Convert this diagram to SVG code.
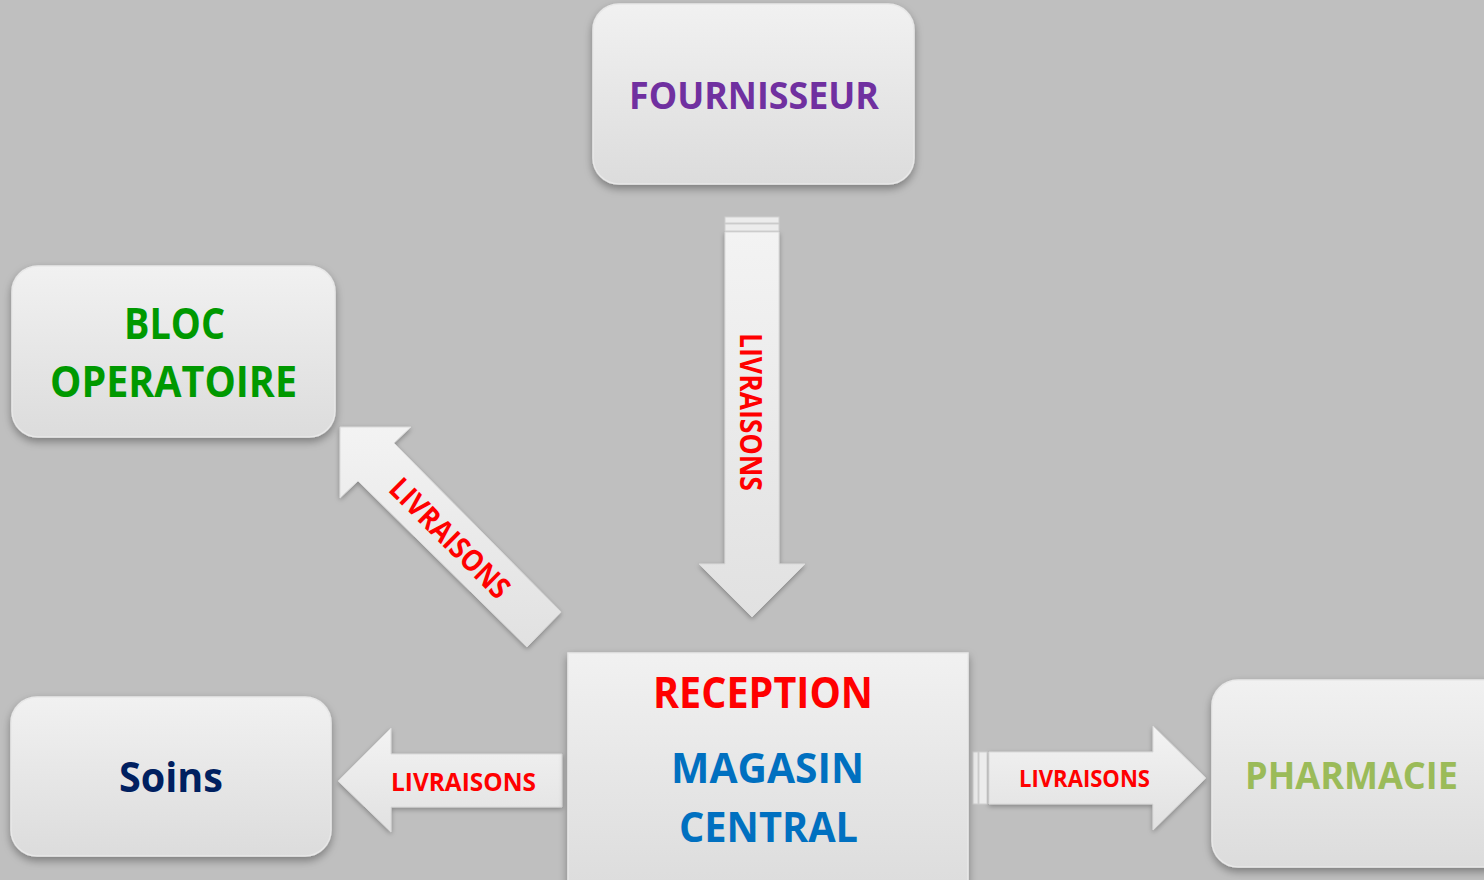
<svg xmlns="http://www.w3.org/2000/svg" width="1484" height="880" viewBox="0 0 1484 880">
<defs>
<linearGradient id="boxGrad" x1="0" y1="0" x2="0" y2="1">
<stop offset="0" stop-color="#f1f1f1"/>
<stop offset="1" stop-color="#dcdcdc"/>
</linearGradient>
<linearGradient id="arrGrad" x1="0" y1="0" x2="0" y2="1">
<stop offset="0" stop-color="#f3f3f3"/>
<stop offset="1" stop-color="#e1e1e1"/>
</linearGradient>
<linearGradient id="arrGradH" x1="0" y1="0" x2="1" y2="0">
<stop offset="0" stop-color="#e4e4e4"/>
<stop offset="0.5" stop-color="#efefef"/>
<stop offset="1" stop-color="#e4e4e4"/>
</linearGradient>
<filter id="shadow" x="-10%" y="-10%" width="120%" height="130%">
<feDropShadow dx="0" dy="4" stdDeviation="4" flood-color="#000" flood-opacity="0.35"/>
</filter>
<filter id="ashadow" x="-10%" y="-10%" width="120%" height="130%">
<feDropShadow dx="0" dy="2" stdDeviation="2.5" flood-color="#000" flood-opacity="0.3"/>
</filter>
</defs>
<style>
.box{fill:url(#boxGrad);stroke:#e8e8e8;stroke-width:1.5;filter:url(#shadow)}
.arrow{fill:url(#arrGrad);stroke:#d9d9d9;stroke-width:1;filter:url(#ashadow)}
.stripe{fill:#ececec;stroke:#cfcfcf;stroke-width:1}
.t{font-family:"Open Sans","Liberation Sans",sans-serif;font-weight:bold;text-anchor:middle}
.lab{font-family:"Open Sans","Liberation Sans",sans-serif;font-weight:bold;text-anchor:middle;fill:#ff0000}
</style>
<rect x="0" y="0" width="1484" height="880" fill="#bfbfbf"/>

<g id="connectors">
<g id="arrow-fournisseur-reception">
<polygon class="arrow" points="725,232 779,232 779,564 805,564 752,617 699,564 725,564"/>
<rect class="stripe" x="725" y="217" width="54" height="6"/>
<rect class="stripe" x="725" y="224" width="54" height="7"/>
<text class="lab" font-size="30" textLength="158" lengthAdjust="spacingAndGlyphs" transform="translate(740,412) rotate(90)">LIVRAISONS</text>
</g>
<g id="arrow-reception-bloc">
<polygon class="arrow" points="340,427 411,427 394,443 561,612 527,647 358,481 340,498"/>
<text class="lab" font-size="30" textLength="156" lengthAdjust="spacingAndGlyphs" transform="translate(450,538) rotate(45)" x="0" y="10.7">LIVRAISONS</text>
</g>
<g id="arrow-reception-soins">
<polygon class="arrow" points="562,754 562,807 391,807 391,832 338,781 391,728 391,754"/>
<text class="lab" font-size="25.6" textLength="145" lengthAdjust="spacingAndGlyphs" x="463.5" y="791">LIVRAISONS</text>
</g>
<g id="arrow-reception-pharmacie">
<polygon class="arrow" points="989,752 1153,752 1153,726 1206,778 1153,830 1153,804 989,804"/>
<rect class="stripe" x="973" y="752" width="5" height="52"/>
<rect class="stripe" x="979" y="752" width="8" height="52"/>
<text class="lab" font-size="24" textLength="131" lengthAdjust="spacingAndGlyphs" x="1084.5" y="787">LIVRAISONS</text>
</g>
</g>

<g id="node-fournisseur">
<rect class="box" x="593" y="4" width="321" height="180" rx="26"/>
<text class="t" fill="#7030a0" font-size="38" textLength="250" lengthAdjust="spacingAndGlyphs" x="754" y="109">FOURNISSEUR</text>
</g>

<g id="node-bloc">
<rect class="box" x="12" y="266" width="323" height="171" rx="26"/>
<text class="t" fill="#009900" font-size="43" textLength="101" lengthAdjust="spacingAndGlyphs" x="174.5" y="339">BLOC</text>
<text class="t" fill="#009900" font-size="43" textLength="247" lengthAdjust="spacingAndGlyphs" x="173.5" y="397">OPERATOIRE</text>
</g>

<g id="node-soins">
<rect class="box" x="11" y="697" width="320" height="159" rx="26"/>
<text class="t" fill="#002060" font-size="42" textLength="104" lengthAdjust="spacingAndGlyphs" x="171" y="792">Soins</text>
</g>

<g id="node-pharmacie">
<rect class="box" x="1212" y="680" width="300" height="187" rx="26"/>
<text class="t" fill="#9bbb59" font-size="38" textLength="213" lengthAdjust="spacingAndGlyphs" x="1351.5" y="789">PHARMACIE</text>
</g>

<g id="node-reception">
<rect class="box" x="568" y="653" width="400" height="240"/>
<text class="t" fill="#ff0000" font-size="43" textLength="220" lengthAdjust="spacingAndGlyphs" x="763" y="708">RECEPTION</text>
<text class="t" fill="#0070c0" font-size="42" textLength="193" lengthAdjust="spacingAndGlyphs" x="767.5" y="783">MAGASIN</text>
<text class="t" fill="#0070c0" font-size="42" textLength="179" lengthAdjust="spacingAndGlyphs" x="768.5" y="841.5">CENTRAL</text>
</g>
</svg>
